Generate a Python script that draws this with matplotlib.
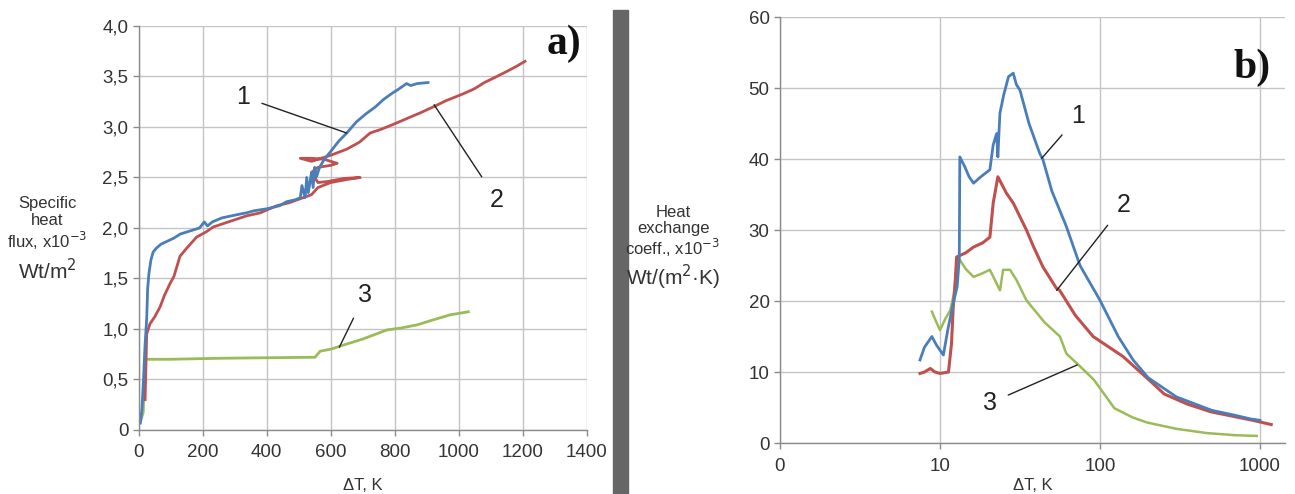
import matplotlib
matplotlib.use("Agg")
import matplotlib.pyplot as plt
from matplotlib.patches import Rectangle

plt.rcParams['font.family'] = ['Liberation Sans', 'DejaVu Sans']

# ---- panel a): specific heat flux vs dT ----
a_x1 = [5, 10, 15, 20, 25, 28, 32, 38, 45, 55, 70, 90, 110, 130, 160, 190, 205, 215, 230, 260,
        290, 320, 337, 360, 400, 440, 462, 490, 505, 510, 520, 525, 530, 540, 545, 550, 556, 565,
        580, 603, 625, 650, 680, 710, 740, 764, 790, 810, 837, 850, 870, 904]
a_y1 = [0.07, 0.2, 0.5, 0.85, 1.1, 1.4, 1.55, 1.68, 1.76, 1.8, 1.84, 1.87, 1.9, 1.94, 1.97, 2.0,
        2.06, 2.02, 2.06, 2.1, 2.12, 2.14, 2.15, 2.17, 2.19, 2.22, 2.26, 2.28, 2.3, 2.42, 2.3, 2.5,
        2.35, 2.55, 2.4, 2.6, 2.51, 2.6, 2.68, 2.77, 2.86, 2.94, 3.05, 3.13, 3.2, 3.27, 3.33, 3.37,
        3.43, 3.41, 3.43, 3.44]
a_x2 = [20, 25, 35, 50, 67, 80, 98, 110, 129, 150, 181, 210, 233, 280, 337, 380, 431, 470, 514,
        540, 560, 600, 650, 692, 640, 590, 560, 540, 560, 600, 620, 580, 540, 505, 540, 600, 650,
        690, 723, 760, 806, 850, 880, 921, 960, 1015, 1050, 1080, 1119, 1150, 1180, 1207]
a_y2 = [0.3, 0.95, 1.05, 1.12, 1.22, 1.33, 1.45, 1.52, 1.72, 1.8, 1.91, 1.96, 2.01, 2.06, 2.12,
        2.15, 2.22, 2.25, 2.3, 2.33, 2.4, 2.45, 2.48, 2.5, 2.49, 2.46, 2.45, 2.55, 2.6, 2.62, 2.64,
        2.68, 2.69, 2.69, 2.66, 2.72, 2.78, 2.85, 2.94, 2.98, 3.04, 3.1, 3.14, 3.2, 3.26, 3.33,
        3.38, 3.44, 3.5, 3.55, 3.6, 3.65]
a_x3 = [4, 14, 18, 20, 25, 100, 254, 400, 551, 567, 600, 639, 700, 775, 820, 869, 920, 973, 1030]
a_y3 = [0.07, 0.17, 0.5, 0.69, 0.70, 0.70, 0.71, 0.715, 0.72, 0.78, 0.8, 0.84, 0.9, 0.99, 1.01,
        1.04, 1.09, 1.14, 1.17]

a_xticks = [0, 200, 400, 600, 800, 1000, 1200, 1400]
a_yticks = [0, 0.5, 1.0, 1.5, 2.0, 2.5, 3.0, 3.5, 4.0]
a_ylabels = ['0', '0,5', '1,0', '1,5', '2,0', '2,5', '3,0', '3,5', '4,0']
# label numbers: (text, point on curve, text position)
a_notes = [('1', (650, 2.94), (326, 3.30)),
           ('2', (923, 3.22), (1119, 2.28)),
           ('3', (627, 0.82), (707, 1.34))]

# ---- panel b): heat exchange coefficient vs dT (log x) ----
b_x1 = [7.5, 8.0, 8.9, 9.5, 10.5, 11.2, 12.1, 12.8, 13.2, 13.3, 14.3, 15.2, 16.2, 18.0, 20.5,
        21.5, 22.6, 23.0, 23.4, 23.7, 25.0, 26.8, 28.7, 30.0, 31.6, 36, 42, 44, 50, 61.6, 75,
        100, 130, 161, 200, 300, 500, 700, 870, 1000]
b_y1 = [11.7, 13.5, 15.0, 13.8, 12.4, 16, 19.7, 22, 26, 40.3, 38.9, 37.5, 36.6, 37.5, 38.5, 42,
        43.6, 40.3, 44, 46.5, 49, 51.6, 52.1, 50.5, 49.7, 45, 40.8, 39.9, 35.5, 30.5, 25, 20.1,
        15, 11.7, 9.2, 6.5, 4.6, 3.9, 3.4, 3.2]
b_x2 = [7.5, 8.0, 8.7, 9.3, 10, 11.3, 11.8, 12.1, 12.4, 12.7, 14.5, 16.2, 18.5, 20.5, 21.5, 23,
        26, 28.7, 34.7, 38.5, 44, 53.4, 56, 70, 90.6, 139, 200, 252, 350, 492, 700, 900, 1175]
b_y2 = [9.8, 10.0, 10.5, 10.0, 9.8, 10.0, 14.0, 19.2, 22, 26.2, 26.8, 27.6, 28.2, 29, 33.8, 37.5,
        35.2, 33.8, 30, 27.6, 24.8, 21.8, 21.5, 18, 15, 12.2, 9, 6.9, 5.5, 4.4, 3.7, 3.2, 2.6]
b_x3 = [8.9, 9.5, 10, 10.8, 11.6, 12.2, 12.7, 13.3, 14.5, 16.2, 18, 20.5, 22, 23.7, 24.8, 27.4,
        30, 34.7, 45, 56.2, 61.6, 75, 91.6, 123, 160, 196, 300, 466, 700, 955]
b_y3 = [18.5, 17, 15.9, 17.5, 18.7, 21, 24.8, 25.8, 24.5, 23.4, 23.8, 24.4, 23, 21.5, 24.4, 24.4,
        23, 20.1, 17, 15, 12.6, 10.8, 8.9, 4.9, 3.6, 2.9, 2.0, 1.4, 1.1, 1.0]

b_xticks = [1, 10, 100, 1000]
b_xlabels = ['0', '10', '100', '1000']
b_yticks = [0, 10, 20, 30, 40, 50, 60]
b_notes = [('1', (43.2, 40.1), (73, 46)),
           ('2', (53.6, 21.5), (140, 33.5)),
           ('3', (72, 11.0), (20.4, 5.6))]

blue, red, green = '#4a7ebb', '#c0504d', '#9bbb59'
grid_c, spine_c, text_c = '#c4c4c4', '#8a8a8a', '#333333'

fig = plt.figure(figsize=(12.95, 4.94), dpi=100)

def style(ax):
    ax.grid(True, color=grid_c, lw=1.0)
    ax.set_axisbelow(True)
    for s in ['top', 'right']:
        ax.spines[s].set_visible(False)
    for s in ['left', 'bottom']:
        ax.spines[s].set_color(spine_c)
        ax.spines[s].set_linewidth(1.0)
    ax.tick_params(colors=spine_c, labelcolor=text_c, labelsize=13.5, length=4, width=1)

def notes(ax, items):
    for t, xy, xt in items:
        ax.annotate(t, xy=xy, xytext=xt, fontsize=18, color='#222222', ha='center', va='center',
                    arrowprops=dict(arrowstyle='-', color='#222222', lw=1.0, shrinkA=7, shrinkB=0))

# panel a
ax1 = fig.add_axes([0.1071, 0.1296, 0.346, 0.8178])
style(ax1)
ax1.plot(a_x3, a_y3, color=green, lw=2)
ax1.plot(a_x2, a_y2, color=red, lw=2)
ax1.plot(a_x1, a_y1, color=blue, lw=2)
ax1.set_xlim(0, 1400)
ax1.set_ylim(0, 4.0)
ax1.set_xticks(a_xticks)
ax1.set_yticks(a_yticks)
ax1.set_yticklabels(a_ylabels)
ax1.tick_params(axis='x', pad=6)
ax1.set_xlabel('ΔT, K', fontsize=12, color=text_c, labelpad=12)
notes(ax1, a_notes)
ax1.text(0.95, 0.955, 'a)', transform=ax1.transAxes, family='Liberation Serif',
         fontweight='bold', fontsize=30, ha='center', va='center', color='#111111')

fig.text(47 / 1295, 1 - 224 / 494, 'Specific\nheat\nflux, x10$^{-3}$', ha='center', va='center',
         fontsize=12, color=text_c, linespacing=1.1)
fig.text(47 / 1295, 1 - 271 / 494, 'Wt/m$^2$', ha='center', va='center',
         fontsize=15, color=text_c)

# separator bar
fig.patches.append(Rectangle((613 / 1295, 0), 15 / 1295, 1 - 10 / 494,
                             transform=fig.transFigure, color='#666666', zorder=0))

# panel b
ax2 = fig.add_axes([0.6023, 0.1032, 0.39, 0.8623])
style(ax2)
ax2.set_xscale('log')
ax2.plot(b_x3, b_y3, color=green, lw=1.8)
ax2.plot(b_x2, b_y2, color=red, lw=2.2)
ax2.plot(b_x1, b_y1, color=blue, lw=2)
ax2.set_xlim(1, 1433)
ax2.set_ylim(0, 60)
ax2.set_xticks(b_xticks)
ax2.set_xticklabels(b_xlabels)
ax2.xaxis.set_minor_locator(matplotlib.ticker.NullLocator())
ax2.set_yticks(b_yticks)
ax2.tick_params(axis='x', pad=7)
ax2.set_xlabel('ΔT, K', fontsize=12, color=text_c, labelpad=2)
notes(ax2, b_notes)
ax2.text(0.935, 0.88, 'b)', transform=ax2.transAxes, family='Liberation Serif',
         fontweight='bold', fontsize=30, ha='center', va='center', color='#111111')

fig.text(673 / 1295, 1 - 232 / 494, 'Heat\nexchange\ncoeff., x10$^{-3}$', ha='center', va='center',
         fontsize=12, color=text_c, linespacing=1.05)
fig.text(673 / 1295, 1 - 277 / 494, 'Wt/(m$^2$·K)', ha='center', va='center',
         fontsize=15, color=text_c)

fig.savefig('out.png', dpi=100)
